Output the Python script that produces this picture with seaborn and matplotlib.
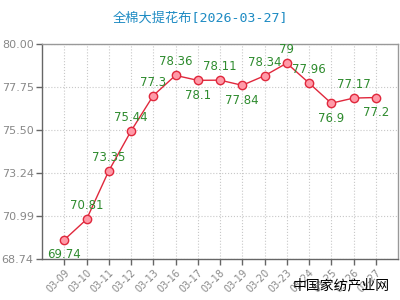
import numpy as np
import pandas as pd
import matplotlib.pyplot as plt
import seaborn as sns

dates = ['03-09', '03-10', '03-11', '03-12', '03-13', '03-16', '03-17',
         '03-18', '03-19', '03-20', '03-23', '03-24', '03-25', '03-26', '03-27']
prices = [69.74, 70.81, 73.35, 75.44, 77.3, 78.36, 78.1,
          78.11, 77.84, 78.34, 79, 77.96, 76.9, 77.17, 77.2]
# label above (1) or below (-1) the point
label_pos = [-1, 1, 1, 1, 1, 1, -1, 1, -1, 1, 1, 1, -1, 1, -1]
yticks = [68.74, 70.99, 73.24, 75.50, 77.75, 80.00]

sns.set_style('white')
plt.rcParams['font.family'] = ['DejaVu Sans', 'Noto Sans CJK SC']

df = pd.DataFrame({'date': dates, 'price': prices})
df['x'] = np.arange(len(df))

fig = plt.figure(figsize=(4, 3), dpi=100)
ax = fig.add_axes([0.105, 0.137, 0.89, 0.716])

sns.lineplot(data=df, x='x', y='price', ax=ax, color='#e0283c', linewidth=1,
             marker='o', markersize=6, markerfacecolor='#ff9aa8',
             markeredgecolor='#e0283c', markeredgewidth=1)

for i, (v, p) in enumerate(zip(prices, label_pos)):
    dy = 5 if p > 0 else -6
    ax.annotate(f'{v:g}', (i, v), xytext=(0, dy), textcoords='offset points',
                ha='center', va='bottom' if p > 0 else 'top',
                fontsize=8.5, color='#2e8b2e')

ax.set_xlim(-1, 15)
ax.set_ylim(68.74, 80)
ax.set_xticks(df['x'])
ax.set_xticklabels(dates, rotation=45, ha='right', rotation_mode='anchor',
                   fontsize=7, color='#888888')
ax.set_yticks(yticks)
ax.set_yticklabels([f'{t:.2f}' for t in yticks], fontsize=8, color='#888888')
ax.tick_params(axis='both', length=4, width=1, color='#666666', direction='out',
               bottom=True, left=True, pad=2)
ax.set_xlabel('')
ax.set_ylabel('')
ax.grid(True, linestyle=':', color='#c8c8c8', linewidth=0.8)

ax.spines['left'].set_color('#666666')
ax.spines['bottom'].set_color('#666666')
ax.spines['top'].set_color('#999999')
ax.spines['right'].set_color('#999999')
for s in ax.spines.values():
    s.set_linewidth(1)

fig.text(0.5, 0.94, '全棉大提花布[2026-03-27]', ha='center', va='center',
         fontsize=9.5, color='#1e8bc3', family=['DejaVu Sans Mono', 'Noto Sans CJK SC'])
fig.text(0.975, 0.05, '中国家纺产业网', ha='right', va='center',
         fontsize=10, color='black', family=['Noto Sans CJK SC'])

fig.savefig('out.png', dpi=100)
